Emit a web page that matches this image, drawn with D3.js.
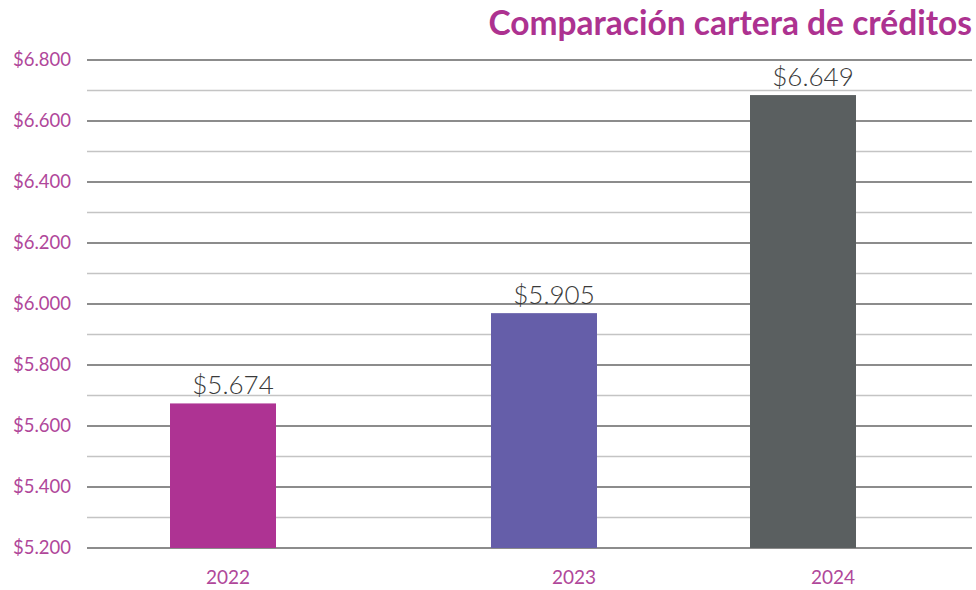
<!DOCTYPE html>
<html><head><meta charset="utf-8">
<script src="https://cdn.jsdelivr.net/npm/d3@7"></script>
<style>body{margin:0;background:#fff}svg{display:block}</style>
</head><body>
<svg id="c" width="976" height="590"></svg>
<script>
const categories = ["2022", "2023", "2024"];
const barValues = [5674, 5970, 6685];
const valueLabels = ["$5.674", "$5.905", "$6.649"];
const yTicks = [5200, 5400, 5600, 5800, 6000, 6200, 6400, 6600, 6800];
const yTickLabels = ["$5.200", "$5.400", "$5.600", "$5.800", "$6.000", "$6.200", "$6.400", "$6.600", "$6.800"];
const minorTicks = [5300, 5500, 5700, 5900, 6100, 6300, 6500, 6700];
const colors = ["#ae3393", "#655ea9", "#5a5f60"];
const title = "Comparación cartera de créditos";

const svg = d3.select("#c");
const y = d3.scaleLinear().domain([5200, 6800]).range([548, 60]);
const xBar = d3.scaleOrdinal().domain(categories).range([223, 544, 803]);
const xLab = d3.scaleOrdinal().domain(categories).range([228, 574, 833]);
const barW = 106;
const gx0 = 87, gx1 = 972;
const font = "Lato, 'Open Sans', sans-serif";

// minor grid
svg.append("g").selectAll("line").data(minorTicks).join("line")
  .attr("x1", gx0).attr("x2", gx1)
  .attr("y1", d => y(d)).attr("y2", d => y(d))
  .attr("stroke", "#c4c4c4").attr("stroke-width", 1.5);
// major grid
svg.append("g").selectAll("line").data(yTicks).join("line")
  .attr("x1", gx0).attr("x2", gx1)
  .attr("y1", d => y(d)).attr("y2", d => y(d))
  .attr("stroke", "#8c8c8c").attr("stroke-width", 2);

// y labels
svg.append("g").selectAll("text").data(yTicks).join("text")
  .attr("x", 71).attr("y", d => y(d)).attr("dy", "0.35em")
  .attr("text-anchor", "end")
  .attr("font-family", font).attr("font-size", 18.5)
  .attr("fill", "#b0479a")
  .text((d, i) => yTickLabels[i]);

// bars
svg.append("g").selectAll("rect").data(categories).join("rect")
  .attr("x", d => xBar(d) - barW / 2)
  .attr("width", barW)
  .attr("y", (d, i) => y(barValues[i]))
  .attr("height", (d, i) => y(5200) - y(barValues[i]))
  .attr("fill", (d, i) => colors[i]);

// value labels
svg.append("g").selectAll("text").data(categories).join("text")
  .attr("x", d => xBar(d) + 10)
  .attr("y", (d, i) => y(barValues[i]) - 9)
  .attr("text-anchor", "middle")
  .attr("font-family", font).attr("font-weight", 300).attr("font-size", 26)
  .attr("fill", "#3a3a3a")
  .text((d, i) => valueLabels[i]);

// x labels
svg.append("g").selectAll("text").data(categories).join("text")
  .attr("x", d => xLab(d)).attr("y", 584)
  .attr("text-anchor", "middle")
  .attr("font-family", font).attr("font-size", 19)
  .attr("fill", "#b0479a")
  .text(d => d);

// title
svg.append("text")
  .attr("x", 972).attr("y", 35)
  .attr("text-anchor", "end")
  .attr("font-family", font).attr("font-weight", 700).attr("font-size", 33.5)
  .attr("fill", "#ad3290")
  .text(title);
</script>
</body></html>
